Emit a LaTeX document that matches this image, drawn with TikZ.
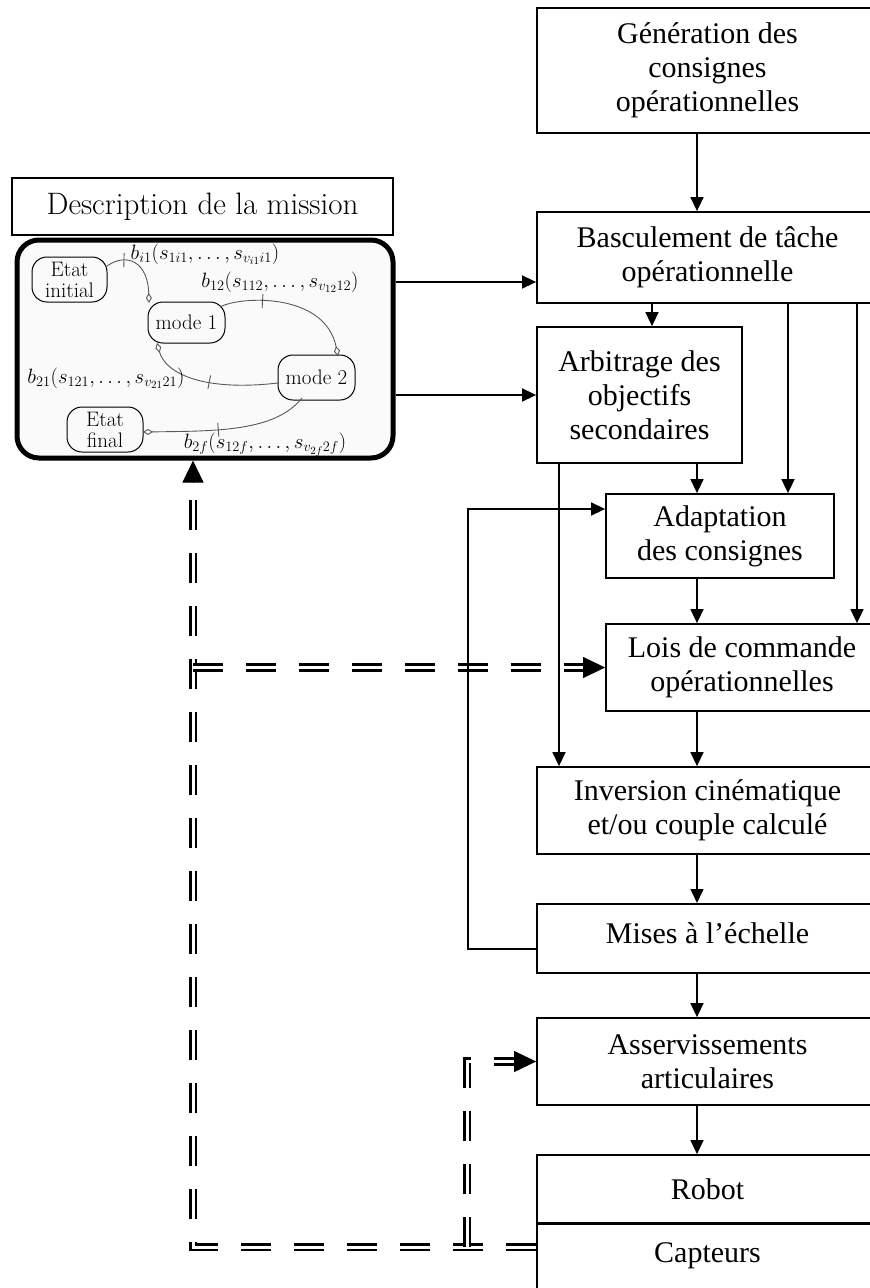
\documentclass[tikz,border=0pt]{standalone}
\usepackage{fontspec}
\newfontfamily\timesfont{Liberation Serif}
\usetikzlibrary{arrows.meta,decorations.markings}

\tikzset{
  blk/.style={draw, line width=1.8pt, align=center, inner sep=0pt,
    font=\timesfont\fontsize{30}{34}\selectfont},
  arr/.style={line width=1.5pt, -{Triangle[length=14pt,width=13pt]}},
  fbk/.style={draw=black, double=white, line width=2.7pt, double distance=3pt,
    dash pattern=on 30pt off 23pt},
  bigtip/.style={line width=1pt, -{Triangle[length=22pt,width=21pt]}},
  etat/.style={draw, line width=1pt, rounded corners=15pt, align=center,
    inner sep=0pt, font=\fontsize{21}{21}\selectfont},
  trans/.style={draw=black!65, line width=0.9pt, -{Diamond[open,length=10pt,width=6pt]}},
  tick at/.style={postaction={decorate, decoration={markings,
    mark=at position #1 with {\draw[-, black!65, line width=0.9pt] (0,-7pt) -- (0,7pt);}}}},
  lbl/.style={inner sep=0pt, font=\fontsize{22}{22}\selectfont}
}

\begin{document}
\begin{tikzpicture}[x=1pt,y=-1pt]
  \useasboundingbox (0,0) rectangle (870,1288);

  % mission
  \node[draw, line width=1.5pt, minimum width=381pt, minimum height=57pt, inner sep=0pt,
    font=\fontsize{31}{32}\selectfont] (msn) at (202.5,206.5) {Description de la mission};
  \node[draw, line width=5pt, rounded corners=22pt, fill=gray!4, minimum width=376pt,
    minimum height=218pt] (msnbox) at (205,349) {};

  \node[etat, minimum width=75pt, minimum height=45pt] (ei) at (69.5,279.5) {Etat\\initial};
  \node[etat, minimum width=77pt, minimum height=41pt] (m1) at (186.5,322.5) {mode 1};
  \node[etat, minimum width=77pt, minimum height=45pt] (m2) at (316.5,377.5) {mode 2};
  \node[etat, minimum width=76pt, minimum height=45pt] (ef) at (105,429.5) {Etat\\final};

  \draw[trans, tick at=0.25] (107,266) .. controls (127,252) and (148,262) .. (149,303);
  \draw[trans, tick at=0.3] (220,307) .. controls (240,296) and (325,292) .. (338,356);
  \draw[trans, tick at=0.5] (278,383) .. controls (200,392) and (165,372) .. (157,343);
  \draw[trans, tick at=0.55] (302,398) .. controls (275,432) and (215,431) .. (143,432);

  \node[lbl] (l1) at (205,254) {$b_{i1}(s_{1i1},\ldots,s_{v_{i1}i1})$};
  \node[lbl] (l2) at (280,282) {$b_{12}(s_{112},\ldots,s_{v_{12}12})$};
  \node[lbl] (l3) at (106,378) {$b_{21}(s_{121},\ldots,s_{v_{21}21})$};
  \node[lbl] (l4) at (265,445) {$b_{2f}(s_{12f},\ldots,s_{v_{2f}2f})$};

  % chaine de commande
  \node[blk, minimum width=341pt, minimum height=125pt] (gen) at (707.5,70.5)
    {Génération des\\consignes\\opérationnelles};
  \node[blk, minimum width=341pt, minimum height=91pt] (bas) at (707.5,257.5)
    {Basculement de tâche\\opérationnelle};
  \node[blk, minimum width=205pt, minimum height=136pt] (arb) at (639.5,395)
    {Arbitrage des\\objectifs\\secondaires};
  \node[blk, minimum width=228pt, minimum height=84pt] (ada) at (720,536)
    {Adaptation\\des consignes};
  \node[blk, minimum width=272pt, minimum height=87pt] (lois) at (742,667.5)
    {Lois de commande\\opérationnelles};
  \node[blk, minimum width=341pt, minimum height=87pt] (inv) at (707.5,810.5)
    {Inversion cinématique\\et/ou couple calculé};
  \node[blk, minimum width=341pt, text height=40pt, text depth=29pt, anchor=north]
    (mis) at (707.5,903) {Mises à l’échelle};
  \node[blk, minimum width=341pt, minimum height=87pt] (asv) at (707.5,1061.5)
    {Asservissements\\articulaires};
  \node[blk, minimum width=341pt, minimum height=68pt] (rob) at (707.5,1189) {Robot};
  \node[blk, minimum width=341pt, text height=39pt, text depth=60pt, anchor=north]
    (cap) at (707.5,1223) {Capteurs};

  % retour capteurs
  \coordinate (fx) at (193,1247);
  \coordinate (fy) at (467,0);
  \coordinate (tm) at (msnbox.south -| fx);
  \draw[fbk, shorten >=21pt] (cap.west |- fx) -| (tm);
  \draw[bigtip] ([yshift=-22pt]tm) -- (tm);
  \draw[fbk, shorten >=21pt] (fx |- lois.west) -- (lois.west);
  \draw[bigtip] ([xshift=-22pt]lois.west) -- (lois.west);
  \draw[fbk, shorten >=21pt] (fy |- fx) |- (asv.west);
  \draw[bigtip] ([xshift=-22pt]asv.west) -- (asv.west);

  % fleches
  \coordinate (cx) at (697,0);
  \coordinate (r1) at (0,282);
  \draw[arr] (msnbox.east |- r1) -- (bas.west |- r1);
  \draw[arr] (msnbox.east |- arb.west) -- (arb.west);
  \draw[arr] (gen.south -| cx) -- (bas.north -| cx);
  \draw[arr] (bas.south -| 652,0) -- (arb.north -| 652,0);
  \draw[arr] (bas.south -| 788,0) -- (ada.north -| 788,0);
  \draw[arr] (bas.south -| 857,0) -- (lois.north -| 857,0);
  \draw[arr] (arb.south -| cx) -- (ada.north -| cx);
  \draw[arr] (arb.south -| 559,0) -- (inv.north -| 559,0);
  \draw[arr] (ada.south -| cx) -- (lois.north -| cx);
  \draw[arr] (lois.south -| cx) -- (inv.north -| cx);
  \draw[arr] (inv.south -| cx) -- (mis.north -| cx);
  \draw[arr] (mis.south -| cx) -- (asv.north -| cx);
  \draw[arr] (asv.south -| cx) -- (rob.north -| cx);
  \coordinate (mb) at (0,949);
  \coordinate (ma) at (468,509);
  \draw[arr] (mis.west |- mb) -| (ma) -- (ada.west |- ma);
\end{tikzpicture}
\end{document}
